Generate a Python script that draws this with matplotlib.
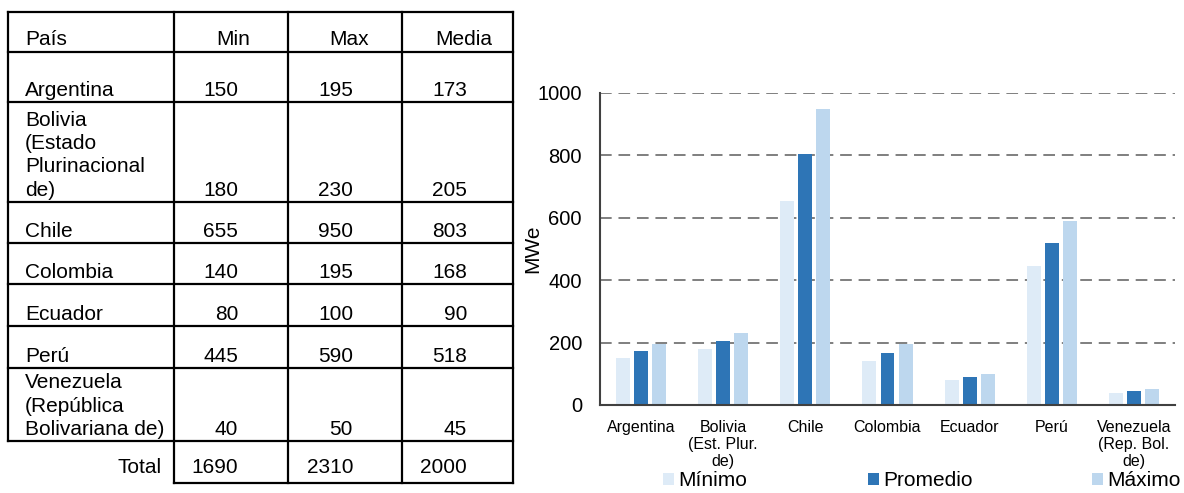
import numpy as np
import matplotlib.pyplot as plt

plt.rcParams['font.family'] = ['Liberation Sans', 'DejaVu Sans']

# datos de la tabla (MWe)
encabezados = ["País", "Min", "Max", "Media"]
paises_tabla = ["Argentina", "Bolivia\n(Estado\nPlurinacional\nde)", "Chile",
                "Colombia", "Ecuador", "Perú",
                "Venezuela\n(República\nBolivariana de)"]
min_mwe = [150, 180, 655, 140, 80, 445, 40]
max_mwe = [195, 230, 950, 195, 100, 590, 50]
media_mwe = [173, 205, 803, 168, 90, 518, 45]
totales = [1690, 2310, 2000]

# etiquetas del grafico
paises_graf = ["Argentina", "Bolivia\n(Est. Plur.\nde)", "Chile", "Colombia",
               "Ecuador", "Perú", "Venezuela\n(Rep. Bol.\nde)"]
series = ["Mínimo", "Promedio", "Máximo"]
colores = ["#deebf7", "#2e75b6", "#bdd7ee"]

W, H = 1184, 493
fig = plt.figure(figsize=(W / 100, H / 100), dpi=100)

# ---- tabla, dibujada en coordenadas de pixel ----
tab = fig.add_axes([0, 0, 1, 1])
tab.set_xlim(0, W)
tab.set_ylim(H, 0)
tab.axis('off')

col_x = [8, 174, 288, 402, 513]
row_y = [12, 52, 102, 202, 243, 284, 326, 368, 441]
total_bottom = 483
lw = 1.6

for y in row_y:
    tab.plot([col_x[0], col_x[-1]], [y, y], color='black', lw=lw, solid_capstyle='projecting')
tab.plot([col_x[1], col_x[-1]], [total_bottom, total_bottom], color='black', lw=lw,
         solid_capstyle='projecting')
for x in col_x:
    y_end = row_y[-1] if x == col_x[0] else total_bottom
    tab.plot([x, x], [row_y[0], y_end], color='black', lw=lw, solid_capstyle='projecting')

fs = 15
head_x = [25, 233, 349, 464]
num_x = [238, 353, 467]
tab.text(head_x[0], row_y[1] - 3, encabezados[0], fontsize=fs, va='bottom', ha='left')
for hx, h in zip(head_x[1:], encabezados[1:]):
    tab.text(hx, row_y[1] - 3, h, fontsize=fs, va='bottom', ha='center')

for i, pais in enumerate(paises_tabla):
    bottom = row_y[i + 2] - 2
    tab.text(25, bottom, pais, fontsize=fs, va='bottom', ha='left', linespacing=1.3)
    for nx, v in zip(num_x, [min_mwe[i], max_mwe[i], media_mwe[i]]):
        tab.text(nx, bottom, str(v), fontsize=fs, va='bottom', ha='right')

tab.text(162, total_bottom - 6, "Total", fontsize=fs, va='bottom', ha='right')
for nx, v in zip(num_x, totales):
    tab.text(nx, total_bottom - 6, str(v), fontsize=fs, va='bottom', ha='right')

# ---- grafico de barras ----
ax = fig.add_axes([600 / W, (H - 405) / H, 575 / W, 312 / H])
x = np.arange(len(paises_graf))
bw = 0.17
step = 0.22
barras = []
for k, (vals, nombre, c) in enumerate(zip([min_mwe, media_mwe, max_mwe], series, colores)):
    barras.append(ax.bar(x + (k - 1) * step, vals, bw, color=c, label=nombre, zorder=2))

ax.set_xlim(-0.5, len(paises_graf) - 0.5)
ax.set_ylim(0, 1000)
ax.set_yticks(range(0, 1001, 200))
ax.set_xticks(x, paises_graf)
ax.yaxis.grid(True, linestyle=(0, (6, 3.5)), color='#7f7f7f', lw=1.4)
ax.set_axisbelow(True)
for s in ['top', 'right']:
    ax.spines[s].set_visible(False)
for s in ['left', 'bottom']:
    ax.spines[s].set_color('#404040')
    ax.spines[s].set_linewidth(1.5)
ax.tick_params(axis='y', length=0, labelsize=14.5, pad=13)
ax.tick_params(axis='x', length=0, labelsize=11.5, pad=10.5)
ax.set_ylabel('MWe', fontsize=15)
ax.yaxis.set_label_coords(-0.10, 0.5)

# leyenda repartida como en el original
leg_x = [663, 868, 1092]
for b, nombre, lx in zip(barras, series, leg_x):
    fig.legend(handles=[b], labels=[nombre], loc='center left',
               bbox_to_anchor=(lx / W, (H - 481) / H), frameon=False, fontsize=15,
               handlelength=0.55, handleheight=0.55, handletextpad=0.2,
               borderpad=0, borderaxespad=0)

fig.savefig('out.png', dpi=100)
